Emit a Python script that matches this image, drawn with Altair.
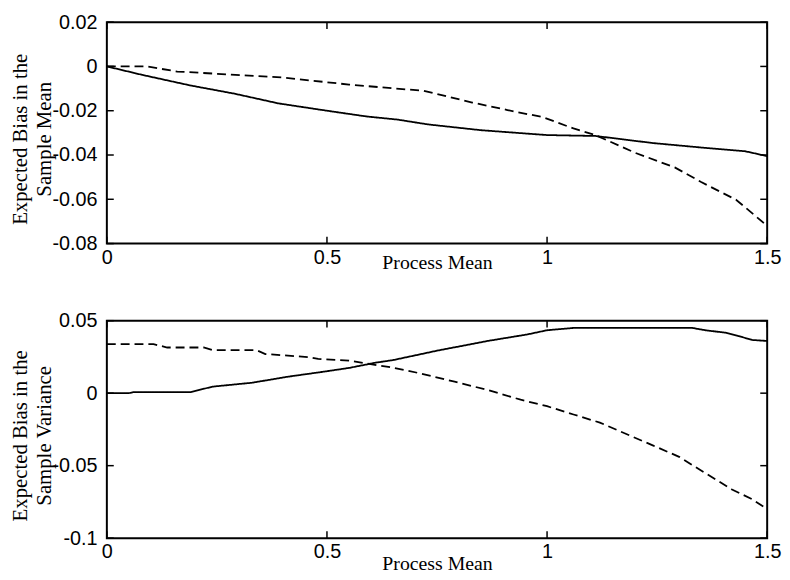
import altair as alt
import pandas as pd

# ---- data ----
top_solid_x = [0, 0.08, 0.19, 0.29, 0.39, 0.50, 0.59, 0.66, 0.73, 0.85, 1.00, 1.11, 1.24, 1.36, 1.45, 1.50]
top_solid_y = [0, -0.0038, -0.0086, -0.0123, -0.0167, -0.0200, -0.0226, -0.0240, -0.0262, -0.0288,
               -0.0310, -0.0314, -0.0346, -0.0368, -0.0383, -0.0405]

top_dash_x = [0, 0.09, 0.16, 0.40, 0.55, 0.64, 0.72, 0.83, 0.91, 0.99, 1.06, 1.11, 1.20, 1.29, 1.35, 1.43, 1.50]
top_dash_y = [0, 0, -0.0023, -0.0050, -0.0082, -0.0097, -0.0110, -0.0163, -0.0197, -0.0229,
              -0.0280, -0.0310, -0.0390, -0.0456, -0.0522, -0.0603, -0.0720]

bot_solid_x = [0, 0.05, 0.06, 0.19, 0.24, 0.33, 0.41, 0.49, 0.55, 0.61, 0.65, 0.75, 0.865, 0.955,
               1.00, 1.06, 1.33, 1.36, 1.405, 1.435, 1.466, 1.50]
bot_solid_y = [0, 0, 0.0007, 0.0007, 0.0045, 0.0072, 0.0113, 0.0147, 0.0174, 0.0210, 0.0228, 0.0293,
               0.0360, 0.0405, 0.0434, 0.0450, 0.0450, 0.0434, 0.0417, 0.0394, 0.0367, 0.0360]

bot_dash_x = [0, 0.106, 0.137, 0.22, 0.24, 0.34, 0.36, 0.46, 0.48, 0.55, 0.617, 0.65, 0.714, 0.79,
              0.865, 0.94, 1.00, 1.06, 1.12, 1.18, 1.24, 1.30, 1.36, 1.42, 1.466, 1.50]
bot_dash_y = [0.0338, 0.0338, 0.0315, 0.0315, 0.0297, 0.0297, 0.0270, 0.0248, 0.0236, 0.0225, 0.0191,
              0.0176, 0.0135, 0.0079, 0.0022, -0.0045, -0.0090, -0.0147, -0.0203, -0.0282, -0.0360,
              -0.0439, -0.0552, -0.0664, -0.0732, -0.0800]

x_ticks = [0, 0.5, 1, 1.5]
top_y_ticks = [-0.08, -0.06, -0.04, -0.02, 0, 0.02]
bot_y_ticks = [-0.1, -0.05, 0, 0.05]

x_title = "Process Mean"
top_y_title = ["Expected Bias in the", "Sample Mean"]
bot_y_title = ["Expected Bias in the", "Sample Variance"]

W = 668
TICK = 7
LABEL_EXPR = "'' + (round(datum.value * 100) / 100)"


def frame(series):
    rows = []
    for name, xs, ys in series:
        for x, y in zip(xs, ys):
            rows.append({"x": x, "y": y, "series": name})
    return pd.DataFrame(rows)


def panel(df, y_dom, y_ticks, y_title, H, title_y_off, xtitle_y, ylab_pad, title_x):
    xs = alt.Scale(domain=[0, 1.5], nice=False, zero=False)
    ys = alt.Scale(domain=y_dom, nice=False, zero=False)
    xax = alt.Axis(values=x_ticks, title=x_title, labelExpr=LABEL_EXPR,
                   labelPadding=4, titleY=xtitle_y, titleBaseline="alphabetic")
    yax = alt.Axis(values=y_ticks, title=y_title, labelExpr=LABEL_EXPR,
                   labelPadding=ylab_pad, titleX=title_x, titleY=H / 2 + title_y_off,
                   titleBaseline="middle", titleLineHeight=24, titleFontSize=21)
    lines = alt.Chart(df).mark_line(color="black", strokeWidth=1.8).encode(
        x=alt.X("x:Q", scale=xs, axis=xax),
        y=alt.Y("y:Q", scale=ys, axis=yax),
        strokeDash=alt.StrokeDash("series:N",
                                  scale=alt.Scale(domain=["solid", "dashed"], range=[[1, 0], [9, 5]]),
                                  legend=None),
        detail="series:N",
    )
    xt = pd.DataFrame({"v": x_ticks})
    yt = pd.DataFrame({"v": y_ticks})
    rx = dict(color="black", strokeWidth=1.5)
    tb = alt.Chart(xt).mark_rule(**rx).encode(
        x=alt.X("v:Q", scale=xs, axis=xax), y=alt.value(H), y2=alt.value(H - TICK))
    tt = alt.Chart(xt).mark_rule(**rx).encode(
        x=alt.X("v:Q", scale=xs, axis=xax), y=alt.value(0), y2=alt.value(TICK))
    tl = alt.Chart(yt).mark_rule(**rx).encode(
        y=alt.Y("v:Q", scale=ys, axis=yax), x=alt.value(0), x2=alt.value(TICK))
    tr = alt.Chart(yt).mark_rule(**rx).encode(
        y=alt.Y("v:Q", scale=ys, axis=yax), x=alt.value(W), x2=alt.value(W - TICK))
    return alt.layer(lines, tb, tt, tl, tr).properties(width=W, height=H)


top_df = frame([("solid", top_solid_x, top_solid_y), ("dashed", top_dash_x, top_dash_y)])
bot_df = frame([("solid", bot_solid_x, bot_solid_y), ("dashed", bot_dash_x, bot_dash_y)])

top = panel(top_df, [-0.08, 0.02], top_y_ticks, top_y_title, 224, 6, 25, 10, -87)
bot = panel(bot_df, [-0.1, 0.05], bot_y_ticks, bot_y_title, 220, 6, 32, 10, -87)

chart = alt.vconcat(top, bot, spacing=37).properties(
    padding={"left": 0, "top": 0, "right": 0, "bottom": 0},
    background="white",
).configure_axis(
    labelFont="Liberation Sans", labelFontSize=20, labelColor="black",
    titleFont="Liberation Serif", titleFontSize=20, titleFontWeight="normal", titleColor="black",
    grid=False, domain=False, ticks=False, tickSize=0, labelFlush=False, labelOverlap=False,
).configure_view(
    stroke="black", strokeWidth=2
)

chart.save("out.html", embed_options={"renderer": "svg", "actions": False})
